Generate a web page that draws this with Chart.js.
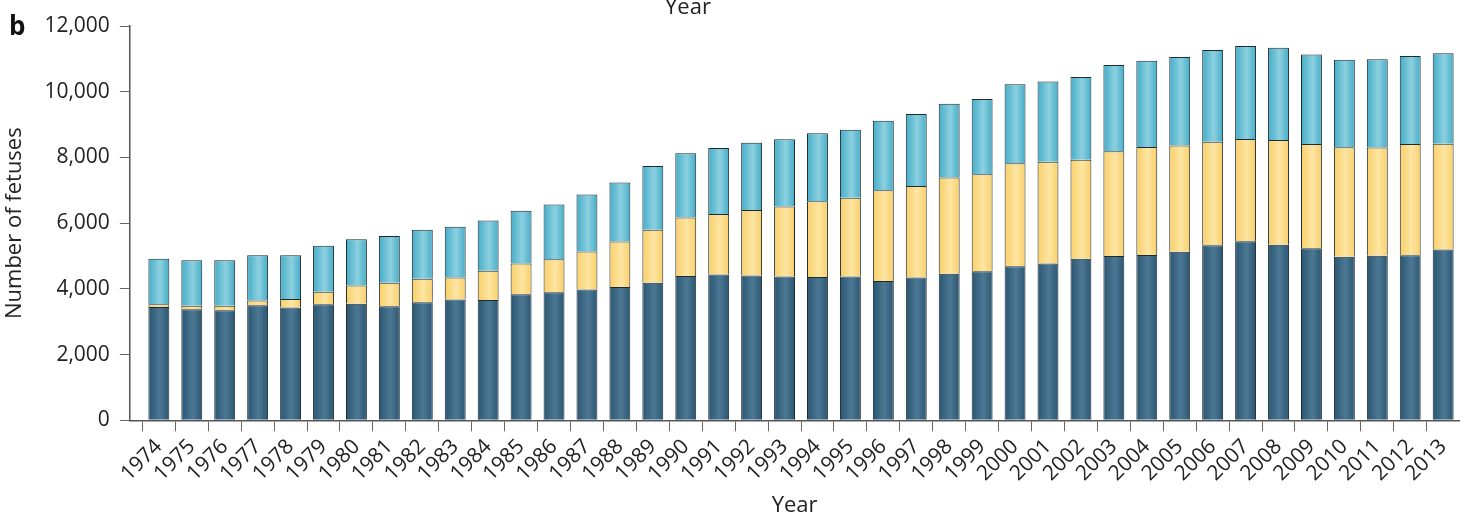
<!DOCTYPE html>
<html>
<head>
<meta charset="utf-8">
<script src="https://cdn.jsdelivr.net/npm/chart.js@4.4.1/dist/chart.umd.min.js"></script>
<style>
  html, body { margin: 0; padding: 0; background: #ffffff; }
  #wrap { width: 1464px; height: 517px; position: relative; }
</style>
</head>
<body>
<div id="wrap"><canvas id="c" width="1464" height="517"></canvas></div>
<script>
const years = [1974,1975,1976,1977,1978,1979,1980,1981,1982,1983,1984,1985,1986,1987,1988,1989,1990,1991,1992,1993,
               1994,1995,1996,1997,1998,1999,2000,2001,2002,2003,2004,2005,2006,2007,2008,2009,2010,2011,2012,2013];
const darkValues = [3450,3380,3350,3500,3430,3530,3550,3470,3590,3680,3660,3840,3900,3980,4060,4190,4390,4440,4410,4380,
                    4360,4380,4240,4350,4460,4540,4690,4770,4920,5000,5030,5130,5330,5450,5340,5240,4980,5010,5020,5200];
const yellowValues = [80,110,140,150,260,380,550,720,720,670,890,930,1000,1160,1380,1610,1780,1840,1990,2130,
                      2310,2390,2760,2780,2930,2950,3130,3100,3010,3190,3290,3230,3150,3110,3190,3170,3330,3290,3390,3220];
const cyanValues = [1390,1385,1385,1375,1335,1400,1410,1420,1490,1540,1530,1610,1670,1735,1800,1940,1960,2005,2050,2045,
                    2065,2070,2120,2190,2245,2290,2405,2440,2520,2620,2620,2700,2790,2830,2810,2720,2660,2690,2680,2750];
const yTicks = [0,2000,4000,6000,8000,10000,12000];

const FONT = "'Open Sans', 'DejaVu Sans', sans-serif";
const BAR_PCT = 0.635;

function gradientFill(edge, mid) {
  return function(ctx) {
    const chart = ctx.chart;
    if (!chart.chartArea || !chart.scales.x) return edge;
    const xs = chart.scales.x;
    const px = xs.getPixelForValue(ctx.dataIndex);
    const w = (xs.getPixelForValue(1) - xs.getPixelForValue(0)) * BAR_PCT;
    const g = chart.ctx.createLinearGradient(px - w / 2, 0, px + w / 2, 0);
    g.addColorStop(0, edge);
    g.addColorStop(0.55, mid);
    g.addColorStop(1, edge);
    return g;
  };
}

function toPoints(arr) { return arr.map((v, i) => ({ x: i, y: v })); }

const extraText = {
  id: 'extraText',
  afterDraw(chart) {
    const c = chart.ctx;
    c.save();
    c.fillStyle = '#111';
    c.font = "bold 26px " + FONT;
    c.textBaseline = 'alphabetic';
    c.textAlign = 'left';
    c.fillText('b', 9, 35);
    c.fillStyle = '#222';
    c.font = "22px " + FONT;
    c.textAlign = 'center';
    c.fillText('Year', 688, 14);
    c.restore();
  }
};

new Chart(document.getElementById('c'), {
  type: 'bar',
  data: {
    datasets: [
      { label: 'dark', data: toPoints(darkValues), backgroundColor: gradientFill('#2a5673', '#4d7893'),
        borderColor: '#1d2a32', borderWidth: 1, barPercentage: BAR_PCT, categoryPercentage: 1 },
      { label: 'yellow', data: toPoints(yellowValues), backgroundColor: gradientFill('#f9cf68', '#fde5a3'),
        borderColor: '#1d2a32', borderWidth: 1, barPercentage: BAR_PCT, categoryPercentage: 1 },
      { label: 'cyan', data: toPoints(cyanValues), backgroundColor: gradientFill('#43adc7', '#8dd0e0'),
        borderColor: '#1d2a32', borderWidth: 1, barPercentage: BAR_PCT, categoryPercentage: 1 }
    ]
  },
  options: {
    responsive: false,
    animation: false,
    layout: { padding: { top: 26, right: 1, left: 2, bottom: -2 } },
    plugins: { legend: { display: false }, tooltip: { enabled: false } },
    scales: {
      x: {
        type: 'linear',
        stacked: true,
        min: -0.88,
        max: 39.49,
        offset: false,
        grid: { display: true, drawOnChartArea: false, drawTicks: true, tickLength: 11, color: '#666', lineWidth: 1 },
        border: { display: true, color: '#555', width: 1.5 },
        afterBuildTicks(scale) { scale.ticks = years.map((y, i) => ({ value: i })); },
        ticks: {
          autoSkip: false,
          maxRotation: 45, minRotation: 45,
          padding: 3,
          color: '#222',
          font: { family: FONT, size: 21 },
          callback: (v) => years[v] !== undefined ? String(years[v]) : ''
        },
        title: { display: true, text: 'Year', color: '#222', font: { family: FONT, size: 22 }, padding: { top: 3.5, bottom: 0 } }
      },
      y: {
        stacked: true,
        min: 0, max: 12000,
        grid: { display: true, drawOnChartArea: false, drawTicks: true, tickLength: 10, color: '#666', lineWidth: 1 },
        border: { display: true, color: '#555', width: 1.5 },
        afterBuildTicks(scale) { scale.ticks = yTicks.map(v => ({ value: v })); },
        ticks: {
          padding: 10,
          color: '#222',
          font: { family: FONT, size: 21 },
          callback: (v) => v.toLocaleString('en-US')
        },
        title: { display: true, text: 'Number of fetuses', color: '#222', font: { family: FONT, size: 22 }, padding: { top: 0, bottom: 6 } }
      }
    }
  },
  plugins: [extraText]
});
</script>
</body>
</html>
